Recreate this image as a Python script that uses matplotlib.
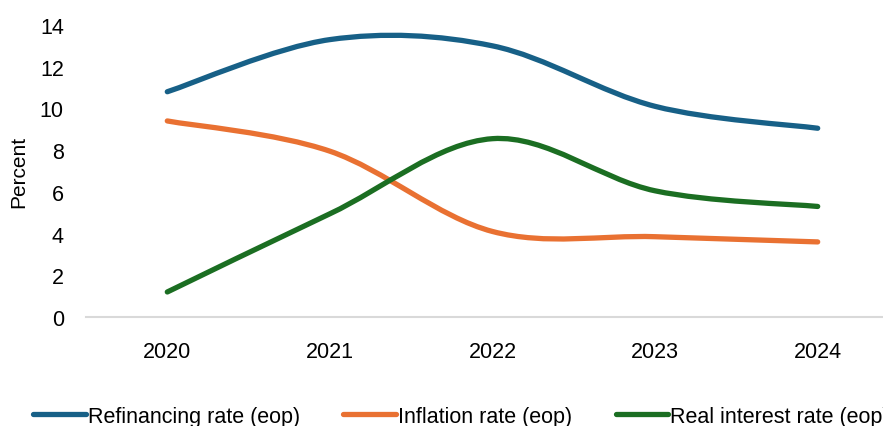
import numpy as np
import matplotlib.pyplot as plt
from matplotlib.path import Path
from matplotlib.patches import PathPatch
from matplotlib.lines import Line2D

plt.rcParams['font.family'] = ['Liberation Sans', 'DejaVu Sans']

years = ['2020', '2021', '2022', '2023', '2024']
refinancing = [10.8, 13.3, 13.0, 10.1, 9.05]
inflation = [9.4, 7.95, 4.1, 3.85, 3.6]
real_rate = [1.2, 4.95, 8.55, 6.05, 5.3]

series = [
    ('Refinancing rate (eop)', refinancing, '#176087'),
    ('Inflation rate (eop)', inflation, '#E97132'),
    ('Real interest rate (eop)', real_rate, '#1B6E22'),
]


def smooth_path(x, y):
    # cubic bezier through the points, Catmull-Rom style tangents
    pts = np.column_stack([x, y]).astype(float)
    n = len(pts)
    verts = [pts[0]]
    codes = [Path.MOVETO]
    for i in range(n - 1):
        p0 = pts[i - 1] if i > 0 else pts[i]
        p1 = pts[i]
        p2 = pts[i + 1]
        p3 = pts[i + 2] if i + 2 < n else pts[i + 1]
        c1 = p1 + (p2 - p0) / 6.0
        c2 = p2 - (p3 - p1) / 6.0
        verts += [c1, c2, p2]
        codes += [Path.CURVE4] * 3
    return Path(verts, codes)


fig = plt.figure(figsize=(8.83, 4.27), dpi=100)
ax = fig.add_axes([86 / 883, 109 / 427, 813 / 883, 292 / 427])

x = np.arange(len(years))
for name, vals, col in series:
    patch = PathPatch(smooth_path(x, vals), facecolor='none', edgecolor=col,
                      lw=3.8, capstyle='round', joinstyle='round')
    ax.add_patch(patch)

ax.set_xlim(-0.5, len(years) - 0.5)
ax.set_ylim(0, 14)
ax.set_yticks(range(0, 15, 2))
ax.set_xticks(x)
ax.set_xticklabels(years)
ax.tick_params(axis='both', length=0, labelsize=15.5, colors='black')
ax.tick_params(axis='x', pad=17)
ax.tick_params(axis='y', pad=16)
for side in ['top', 'right', 'left']:
    ax.spines[side].set_visible(False)
ax.spines['bottom'].set_color('#d9d9d9')
ax.spines['bottom'].set_linewidth(1.5)
ax.set_ylabel('Percent', fontsize=15)
ax.yaxis.set_label_coords(-58 / 813, 0.5)

handles = [Line2D([], [], color=col, lw=3.8, solid_capstyle='round')
           for _, _, col in series]
fig.legend(handles, [s[0] for s in series], loc='lower left',
           bbox_to_anchor=(14 / 883, -0.047), ncol=3, frameon=False,
           fontsize=15.5, handlelength=2.45, handletextpad=0.1,
           columnspacing=2.0)

fig.savefig('out.png', dpi=100)
